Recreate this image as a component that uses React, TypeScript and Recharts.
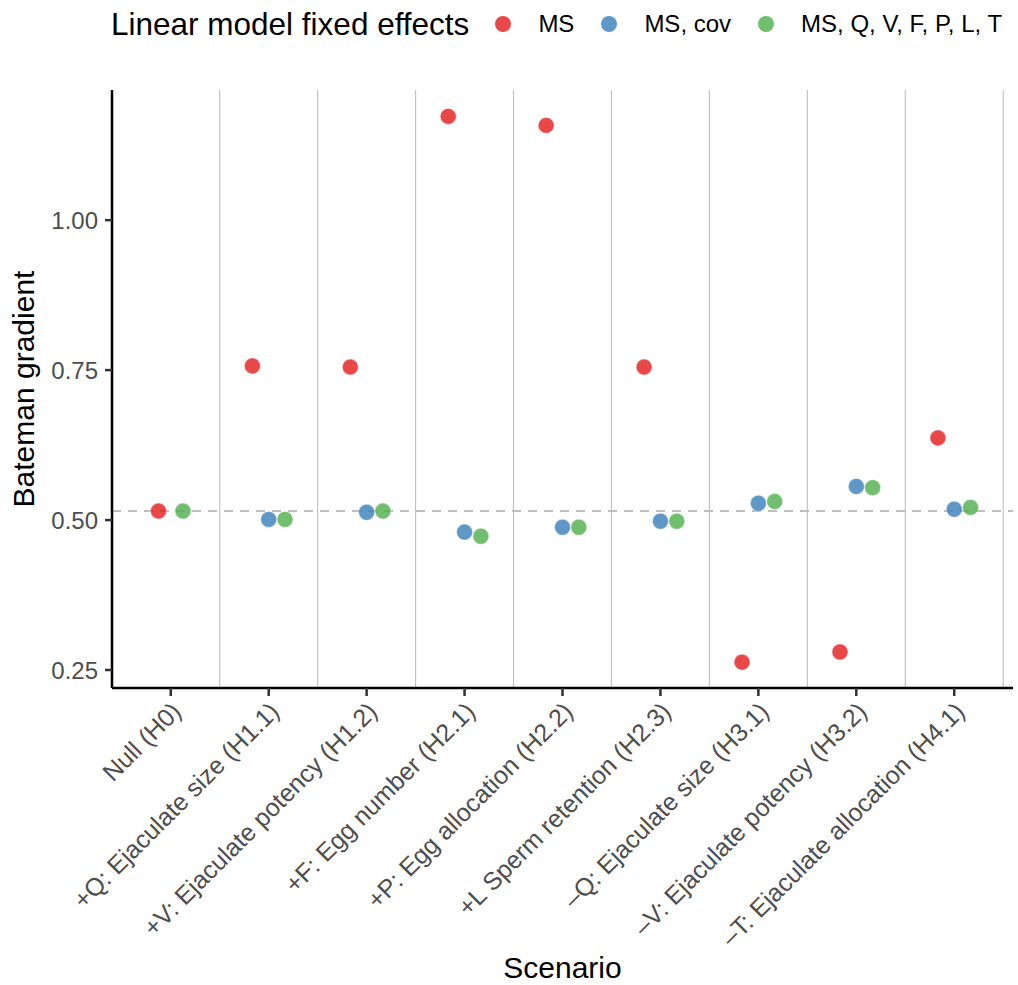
import React from "react";
import {
  ScatterChart,
  Scatter,
  XAxis,
  YAxis,
  ReferenceLine,
  Legend,
  Label,
} from "recharts";

const categories = [
  "Null (H0)",
  "+Q: Ejaculate size (H1.1)",
  "+V: Ejaculate potency (H1.2)",
  "+F: Egg number (H2.1)",
  "+P: Egg allocation (H2.2)",
  "+L Sperm retention (H2.3)",
  "\u2013Q: Ejaculate size (H3.1)",
  "\u2013V: Ejaculate potency (H3.2)",
  "\u2013T: Ejaculate allocation (H4.1)",
];

const seriesNames = ["MS", "MS, cov", "MS, Q, V, F, P, L, T"];
const seriesColors = ["#E41A1C", "#377EB8", "#4DAF4A"];

const msValues: (number | null)[] = [0.515, 0.757, 0.755, 1.173, 1.158, 0.755, 0.263, 0.28, 0.637];
const covValues: (number | null)[] = [null, 0.501, 0.513, 0.48, 0.488, 0.498, 0.528, 0.556, 0.518];
const fullValues: (number | null)[] = [0.515, 0.501, 0.515, 0.473, 0.488, 0.498, 0.531, 0.554, 0.521];

const yTicks = [0.25, 0.5, 0.75, 1.0];
const nullGradient = 0.515;

const allSeries = [msValues, covValues, fullValues];
const DODGE = 0.5;

// dodge points within each category (like position_dodge(width = 0.5))
const seriesData = allSeries.map((vals, s) =>
  vals
    .map((v, i) => {
      if (v == null) return null;
      const present = allSeries.map((arr) => arr[i] != null);
      const n = present.filter(Boolean).length;
      const k = present.slice(0, s).filter(Boolean).length;
      const off = (-0.5 + (k + 0.5) / n) * DODGE;
      return { x: i + off, y: v, cat: categories[i] };
    })
    .filter((d) => d !== null)
);

const FONT = "'Liberation Sans', Arial, Helvetica, sans-serif";

const XTick = (props: any) => {
  const { x, y, payload } = props;
  const label = categories[payload.value];
  return (
    <g transform={`translate(${x + 12},${y + 15})`}>
      <text
        x={0}
        y={0}
        textAnchor="end"
        transform="rotate(-45)"
        fontSize={25}
        fill="#4D4D4D"
        fontFamily={FONT}
      >
        {label}
      </text>
    </g>
  );
};

const makeDot = (color: string) => (props: any) => {
  const { cx, cy } = props;
  if (cx == null || cy == null) return <g />;
  return (
    <circle
      cx={cx}
      cy={cy}
      r={8}
      fill={color}
      fillOpacity={0.8}
      stroke="#FFFFFF"
      strokeOpacity={0.35}
      strokeWidth={1.2}
    />
  );
};

const LegendContent = () => (
  <div
    style={{
      position: "absolute",
      left: 111,
      top: 0,
      height: 48,
      display: "flex",
      alignItems: "center",
      fontFamily: FONT,
      color: "#000",
      whiteSpace: "nowrap",
    }}
  >
    <span style={{ fontSize: 31.5, marginRight: 26 }}>Linear model fixed effects</span>
    {seriesNames.map((name, i) => (
      <span key={name} style={{ display: "flex", alignItems: "center", marginRight: 27 }}>
        <span
          style={{
            width: 16,
            height: 16,
            borderRadius: 8,
            background: seriesColors[i],
            opacity: 0.8,
            display: "inline-block",
          }}
        />
        <span style={{ fontSize: 24, marginLeft: 27 }}>{name}</span>
      </span>
    ))}
  </div>
);

const YTitle = (props: any) => {
  const vb = props.viewBox || { x: 0, y: 90, width: 112, height: 598 };
  const cx = vb.x + 34;
  const cy = vb.y + vb.height / 2;
  return (
    <text
      x={cx}
      y={cy}
      transform={`rotate(-90, ${cx}, ${cy})`}
      textAnchor="middle"
      fontSize={30}
      fill="#000"
      fontFamily={FONT}
    >
      Bateman gradient
    </text>
  );
};

const XTitle = (props: any) => {
  const vb = props.viewBox || { x: 112, y: 688, width: 901, height: 297 };
  return (
    <text
      x={vb.x + vb.width / 2}
      y={vb.y + 290}
      textAnchor="middle"
      fontSize={30}
      fill="#000"
      fontFamily={FONT}
    >
      Scenario
    </text>
  );
};

export default function App() {
  return (
    <div style={{ position: "absolute", left: 0, top: 0, background: "#fff" }}>
      <ScatterChart
        width={1018}
        height={985}
        margin={{ top: 90, right: 5, bottom: 0, left: 0 }}
        style={{ fontFamily: FONT }}
      >
        <XAxis
          type="number"
          dataKey="x"
          domain={[-0.6, 8.6]}
          ticks={categories.map((_, i) => i)}
          interval={0}
          allowDataOverflow
          height={297}
          tick={<XTick />}
          tickSize={8}
          tickMargin={2}
          axisLine={{ stroke: "#000", strokeWidth: 2.5 }}
          tickLine={{ stroke: "#333", strokeWidth: 2.5 }}
        >
          <Label content={<XTitle />} />
        </XAxis>
        <YAxis
          type="number"
          dataKey="y"
          domain={[0.22, 1.217]}
          ticks={yTicks}
          allowDataOverflow
          width={112}
          tickFormatter={(v: number) => v.toFixed(2)}
          tick={{ fontSize: 24, fill: "#4D4D4D", fontFamily: FONT }}
          tickSize={7}
          tickMargin={7}
          axisLine={{ stroke: "#000", strokeWidth: 2.5 }}
          tickLine={{ stroke: "#333", strokeWidth: 2.5 }}
        >
          <Label content={<YTitle />} />
        </YAxis>
        {categories.map((_, i) => (
          <ReferenceLine
            key={"g" + i}
            x={i + 0.5}
            stroke="#BEBEBE"
            strokeWidth={1.1}
            ifOverflow="hidden"
          />
        ))}
        {seriesData.map((d, s) => (
          <Scatter
            key={seriesNames[s]}
            name={seriesNames[s]}
            data={d as any[]}
            fill={seriesColors[s]}
            shape={makeDot(seriesColors[s])}
            isAnimationActive={false}
          />
        ))}
        <ReferenceLine
          y={nullGradient}
          stroke="#BEBEBE"
          strokeWidth={2}
          strokeDasharray="9 7"
        />
        <Legend
          layout="vertical"
          verticalAlign="middle"
          align="center"
          wrapperStyle={{ top: 0, left: 0, width: 1018, height: 48 }}
          content={<LegendContent />}
        />
      </ScatterChart>
    </div>
  );
}
